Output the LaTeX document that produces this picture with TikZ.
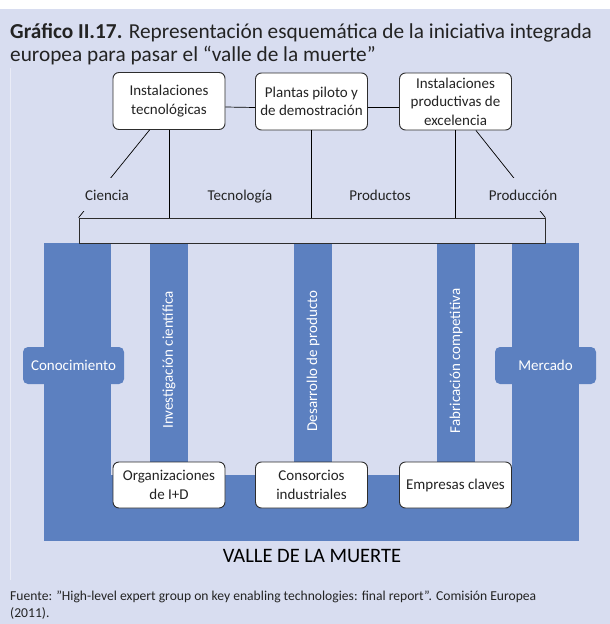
\documentclass[tikz,border=0pt]{standalone}
\usepackage{fontspec}
\setmainfont{Carlito}
\usepackage{xcolor}

\definecolor{lavanda}{RGB}{216,221,240}
\definecolor{azul}{RGB}{92,128,192}
\definecolor{borde}{RGB}{45,45,45}
\definecolor{texto}{RGB}{35,35,35}

\begin{document}
\begin{tikzpicture}[
  x=1pt, y=-1pt,
  caja/.style={draw=borde,fill=white,rounded corners=6pt,line width=0.9pt,minimum width=112pt,inner sep=1pt,align=center,text=texto,font=\fontsize{15}{18.5}\selectfont},
  etiqueta/.style={anchor=base,text=texto,font=\fontsize{15}{18}\selectfont,text height=14pt,text depth=3pt,inner xsep=3pt,inner ysep=8pt},
  vertical/.style={rotate=90,text=white,font=\fontsize{15}{18}\selectfont},
  pestana/.style={fill=azul,rounded corners=5pt,minimum width=101pt,minimum height=37pt,inner sep=0pt,text=white,font=\fontsize{15}{18}\selectfont},
  linea/.style={draw=black,line width=0.7pt}
]
  % fondo
  \fill[white] (0,0) rectangle (610,624);
  \fill[lavanda] (0,9) rectangle (610,624);
  \useasboundingbox (0,0) rectangle (610,624);
  \draw[white!45!lavanda,line width=0.8pt] (10,68) -- (10,580);

  % titulo
  \node[anchor=base west,inner sep=0pt,text=texto,font=\fontsize{21.3}{25}\selectfont] (titulo1) at (10,38) {\textbf{Gráfico II.17.} Representación esquemática de la iniciativa integrada};
  \node[anchor=base west,inner sep=0pt,text=texto,font=\fontsize{21.3}{25}\selectfont] (titulo2) at (10,61) {europea para pasar el “valle de la muerte”};

  % valle
  \fill[azul] (44,243) rectangle (111,541);
  \fill[azul] (512,243) rectangle (579,541);
  \fill[azul] (44,475) rectangle (579,541);
  \foreach \x in {150,294,437}
    \fill[azul] (\x,243) rectangle ++(38,232);

  \node[pestana] (conocimiento) at (73.5,365.5) {Conocimiento};
  \node[pestana] (mercado) at (545.5,365.5) {Mercado};

  \node[vertical] (investigacion) at (169,360) {Investigación científica};
  \node[vertical] (desarrollo) at (313,361) {Desarrollo de producto};
  \node[vertical] (fabricacion) at (456,361) {Fabricación competitiva};

  % cajas superiores
  \node[caja,minimum height=57pt] (instTec) at (169,101) {Instalaciones\\tecnológicas};
  \node[caja,minimum height=57pt] (planta) at (311.5,101.5) {Plantas piloto y\\de demostración};
  \node[caja,minimum height=57pt] (instProd) at (455.5,101.5) {Instalaciones\\productivas de\\excelencia};

  \node[draw=borde,line width=0.8pt,minimum width=466pt,minimum height=25pt,inner sep=0pt] (soporte) at (312,230.5) {};

  \draw[linea] ([yshift=-6pt]instTec.east) -- ([yshift=-6pt]planta.west);
  \draw[linea] ([yshift=-6pt]planta.east) -- ([yshift=-6pt]instProd.west);
  \draw[linea] (instTec.south) -- (instTec.south |- soporte.north);
  \draw[linea] (planta.south) -- (planta.south |- soporte.north);
  \draw[linea] (instProd.south) -- (instProd.south |- soporte.north);
  \draw[linea] ([xshift=37pt]instTec.south west) -- (soporte.north west);
  \draw[linea] ([xshift=-36pt]instProd.south east) -- (soporte.north east);

  \node[etiqueta,fill=lavanda] (ciencia) at (107,200) {Ciencia};
  \node[etiqueta] (tecnologia) at (240,200) {Tecnología};
  \node[etiqueta] (productos) at (380,200) {Productos};
  \node[etiqueta,fill=lavanda] (produccion) at (523,200) {Producción};

  % cajas inferiores
  \node[caja,minimum height=46pt] (orgID) at (169,485) {Organizaciones\\de I+D};
  \node[caja,minimum height=46pt] (consorcio) at (311.5,485) {Consorcios\\industriales};
  \node[caja,minimum height=46pt] (empresas) at (455.5,485) {Empresas claves};

  \node[anchor=base,text=black,font=\fontsize{20.5}{24}\selectfont] (valle) at (312,562) {VALLE DE LA MUERTE};

  % fuente
  \node[anchor=base west,inner sep=0pt,text=texto,font=\fontsize{13.6}{16}\selectfont] (fuente1) at (10,600) {Fuente: "High-level expert group on key enabling technologies: final report”. Comisión Europea};
  \node[anchor=base west,inner sep=0pt,text=texto,font=\fontsize{13.6}{16}\selectfont] (fuente2) at (10,617) {(2011).};
\end{tikzpicture}
\end{document}
